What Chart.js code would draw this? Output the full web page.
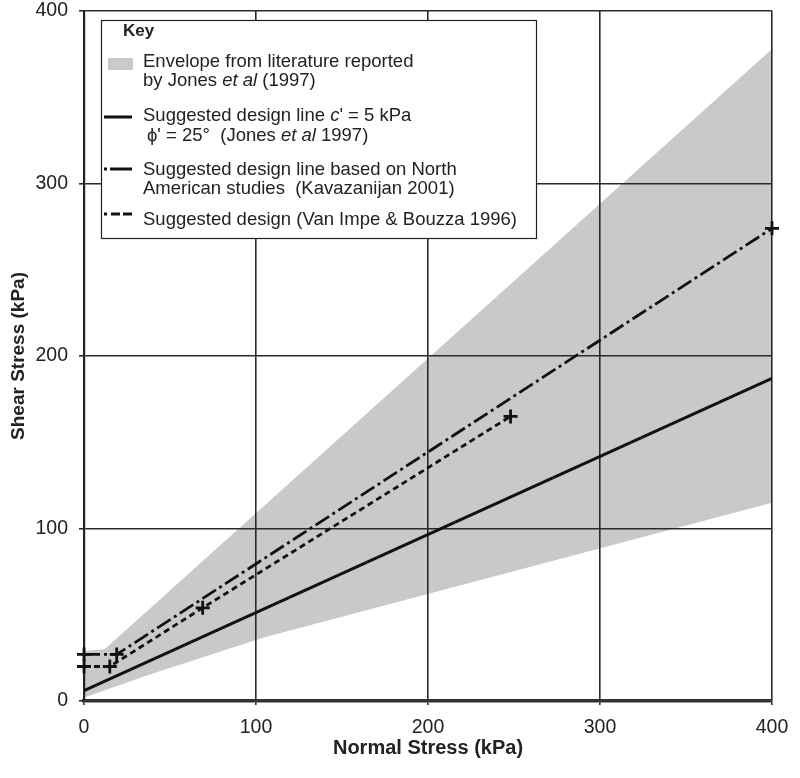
<!DOCTYPE html>
<html>
<head>
<meta charset="utf-8">
<script src="https://cdn.jsdelivr.net/npm/chart.js@4.4.1/dist/chart.umd.min.js"></script>
<style>
  html, body { margin: 0; padding: 0; background: #fff; }
  #wrap { width: 800px; height: 778px; position: relative; }
</style>
</head>
<body>
<div id="wrap"><canvas id="c"></canvas></div>
<script>
// ---- data ----
const xTicks = [0, 100, 200, 300, 400];
const yTicks = [0, 100, 200, 300, 400];

const envUpperX = [0, 12, 400];
const envUpperY = [29, 30, 378];
const envLowerX = [0, 40, 105, 400];
const envLowerY = [2, 16, 37, 115];

const jonesX = [0, 400];
const jonesY = [6, 187];

const kavX = [0, 19, 400];
const kavY = [27, 27, 274];

const vanX = [0, 15, 69, 248];
const vanY = [20, 20, 54, 165];

const xTitle = 'Normal Stress (kPa)';
const yTitle = 'Shear Stress (kPa)';

function pts(xs, ys) { return xs.map((x, i) => ({ x: x, y: ys[i] })); }

const FONT = '"Liberation Sans", Arial, sans-serif';
const SHADE = '#c9c9c9';
const INK = '#111';

const legendPlugin = {
  id: 'keyBox',
  afterDraw(chart) {
    const ctx = chart.ctx;
    ctx.save();
    ctx.fillStyle = '#fff';
    ctx.fillRect(101, 20, 435, 218);
    ctx.strokeStyle = '#222';
    ctx.lineWidth = 1.2;
    ctx.strokeRect(101.5, 20.5, 435, 218);

    const fs = 18.5;
    function rich(x, y, parts) {
      let cx = x;
      for (const [t, s] of parts) {
        ctx.font = (s === 'i' ? 'italic ' : s === 'b' ? 'bold ' : '') + fs + 'px ' + FONT;
        ctx.fillStyle = '#222';
        ctx.textBaseline = 'alphabetic';
        ctx.textAlign = 'left';
        ctx.fillText(t, cx, y);
        cx += ctx.measureText(t).width;
      }
    }
    ctx.font = 'bold 17px ' + FONT;
    ctx.fillStyle = '#222';
    ctx.fillText('Key', 123, 36);

    // envelope swatch
    ctx.fillStyle = SHADE;
    ctx.fillRect(108, 58, 25, 12);
    rich(143, 67, [['Envelope from literature reported', 'n']]);
    rich(143, 86, [['by Jones ', 'n'], ['et al', 'i'], [' (1997)', 'n']]);

    // solid sample
    ctx.strokeStyle = INK;
    ctx.lineWidth = 3;
    ctx.setLineDash([]);
    ctx.beginPath(); ctx.moveTo(104, 117); ctx.lineTo(132, 117); ctx.stroke();
    rich(143, 121, [['Suggested design line ', 'n'], ['c', 'i'], ["' = 5 kPa", 'n']]);
    rich(147, 141, [["\u03D5' = 25\u00B0  (Jones ", 'n'], ['et al', 'i'], [' 1997)', 'n']]);

    // dash-dot sample
    ctx.beginPath(); ctx.moveTo(104, 169); ctx.lineTo(107, 169); ctx.stroke();
    ctx.beginPath(); ctx.moveTo(110, 169); ctx.lineTo(132, 169); ctx.stroke();
    rich(143, 175, [['Suggested design line based on North', 'n']]);
    rich(143, 194, [['American studies  (Kavazanijan 2001)', 'n']]);

    // dashed sample
    ctx.beginPath(); ctx.moveTo(104, 214); ctx.lineTo(107, 214); ctx.stroke();
    ctx.beginPath(); ctx.moveTo(111, 214); ctx.lineTo(120, 214); ctx.stroke();
    ctx.beginPath(); ctx.moveTo(123, 214); ctx.lineTo(132, 214); ctx.stroke();
    rich(143, 225, [['Suggested design (Van Impe & Bouzza 1996)', 'n']]);
    ctx.restore();
  }
};

new Chart(document.getElementById('c'), {
  type: 'line',
  data: {
    datasets: [
      {
        label: 'Envelope upper',
        data: pts(envUpperX, envUpperY),
        borderWidth: 0,
        borderColor: 'rgba(0,0,0,0)',
        backgroundColor: SHADE,
        pointRadius: 0,
        fill: { target: 1 },
        tension: 0
      },
      {
        label: 'Envelope lower',
        data: pts(envLowerX, envLowerY),
        borderWidth: 0,
        borderColor: 'rgba(0,0,0,0)',
        pointRadius: 0,
        fill: false,
        tension: 0
      },
      {
        label: 'Jones et al 1997',
        data: pts(jonesX, jonesY),
        borderColor: INK,
        borderWidth: 3,
        pointRadius: 0,
        fill: false
      },
      {
        label: 'Kavazanijan 2001',
        data: pts(kavX, kavY),
        borderColor: INK,
        borderWidth: 2.8,
        borderDash: [16, 4, 3, 4],
        pointStyle: 'cross',
        pointRadius: 7,
        pointBorderWidth: 2.8,
        pointBorderColor: INK,
        clip: false,
        fill: false
      },
      {
        label: 'Van Impe & Bouzza 1996',
        data: pts(vanX, vanY),
        borderColor: INK,
        borderWidth: 2.8,
        borderDash: [6, 4],
        pointStyle: 'cross',
        pointRadius: 7,
        pointBorderWidth: 2.8,
        pointBorderColor: INK,
        clip: false,
        fill: false
      }
    ]
  },
  options: {
    responsive: true,
    maintainAspectRatio: false,
    animation: false,
    layout: { padding: { top: 11, right: 28, bottom: 0, left: 0 } },
    plugins: {
      legend: { display: false },
      tooltip: { enabled: false },
      filler: { drawTime: 'beforeDraw', propagate: false }
    },
    scales: {
      x: {
        type: 'linear',
        min: 0, max: 400,
        afterBuildTicks(s) { s.ticks = xTicks.map(v => ({ value: v })); },
        afterFit(s) { s.height = 77; s.paddingLeft = 0; s.paddingRight = 0; },
        ticks: { color: '#222', font: { family: FONT, size: 19.5 }, padding: 11 },
        grid: { color: '#2a2a2a', lineWidth: 1.6, tickLength: 4, tickColor: '#2a2a2a' },
        border: { display: true, color: '#333', width: 3.5 },
        title: { display: true, text: xTitle, color: '#222', font: { family: FONT, size: 20, weight: 'bold' }, padding: { top: 0, bottom: 18 } }
      },
      y: {
        type: 'linear',
        min: 0, max: 400,
        afterBuildTicks(s) { s.ticks = yTicks.map(v => ({ value: v })); },
        afterFit(s) { s.width = 84; s.paddingTop = 0; s.paddingBottom = 0; },
        ticks: { color: '#222', font: { family: FONT, size: 19.5 }, padding: 11 },
        grid: { color: '#2a2a2a', lineWidth: 1.6, tickLength: 5, tickColor: '#2a2a2a' },
        border: { display: true, color: '#222', width: 2.2 },
        title: { display: true, text: yTitle, color: '#222', font: { family: FONT, size: 19, weight: 'bold' }, padding: { top: 7, bottom: 0 } }
      }
    }
  },
  plugins: [legendPlugin]
});
</script>
</body>
</html>
